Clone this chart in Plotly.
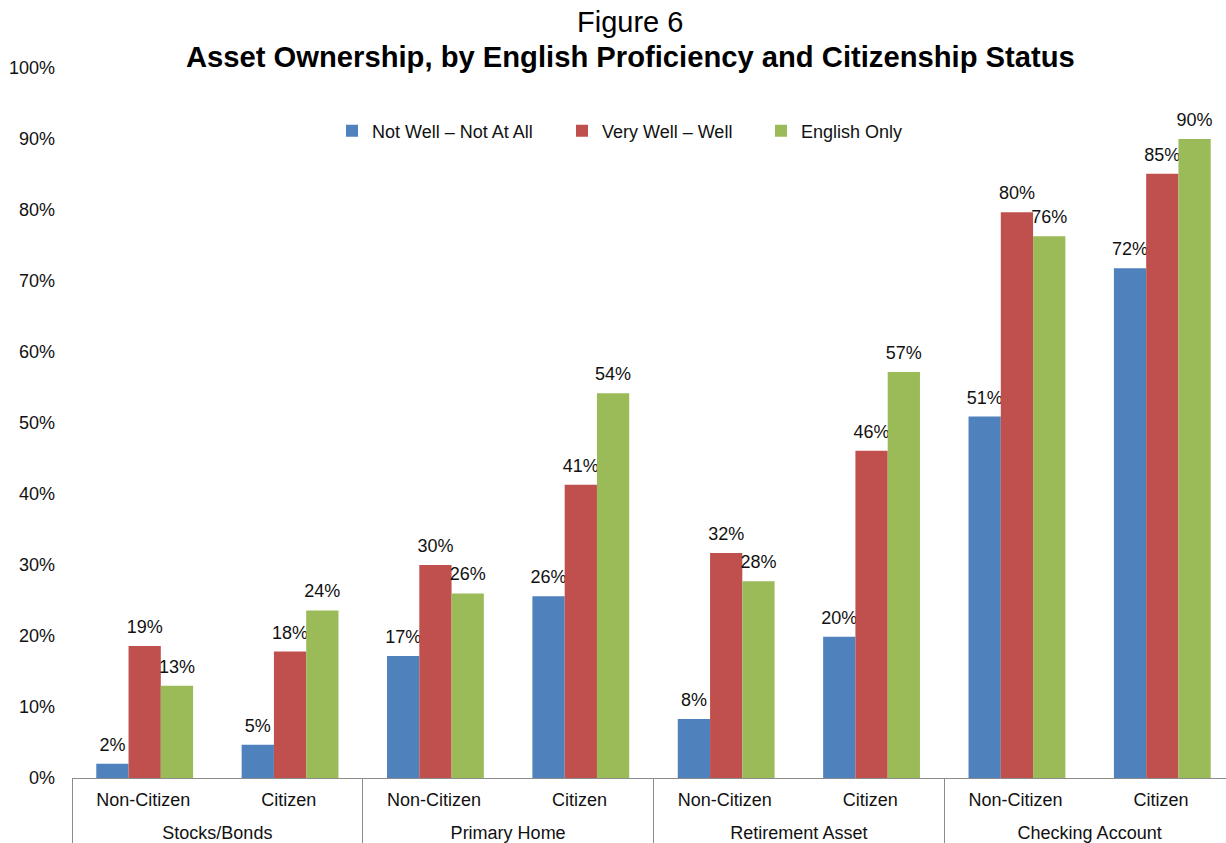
import plotly.graph_objects as go

# Asset groups and citizenship sub-groups (two-level category axis)
assets = ["Stocks/Bonds", "Stocks/Bonds", "Primary Home", "Primary Home",
          "Retirement Asset", "Retirement Asset", "Checking Account", "Checking Account"]
status = ["Non-Citizen", "Citizen"] * 4

# Share owning each asset (%), by English proficiency
not_well = [2.0, 4.7, 17.2, 25.6, 8.3, 19.9, 50.9, 71.8]
very_well = [18.6, 17.8, 30.0, 41.3, 31.7, 46.1, 79.7, 85.1]
english_only = [13.0, 23.6, 26.0, 54.2, 27.7, 57.2, 76.3, 90.0]

series_names = ["Not Well \u2013 Not At All", "Very Well \u2013 Well", "English Only"]
series_values = [not_well, very_well, english_only]
series_colors = ["#4F81BD", "#C0504D", "#9BBB59"]

y_ticks = list(range(0, 101, 10))
y_tick_text = [f"{v}%" for v in y_ticks]

FONT = "Liberation Sans, Arial, sans-serif"
W, H = 1226, 843
L, T, B = 72, 68, 64.5
plot_w = W - L
plot_h = H - T - B
unit_px = 145.4  # width of one category slot


def px_x(px):
    return (px - L) / plot_w


def px_y(px):
    return (H - B - px) / plot_h


# Lower-level labels carry a tall blank so the group names sit further below
spacer = "<span style='font-size:32px'>\u200a</span>"
status_labels = [s + spacer for s in status]

# Tall blanks around the value labels lift them a little off the bar tops
lift = "<span style='font-size:46px'>\u200a</span>"

fig = go.Figure()
legend_ids = ["legend", "legend2", "legend3"]
for name, vals, color, lg in zip(series_names, series_values, series_colors, legend_ids):
    fig.add_trace(go.Bar(
        x=[assets, status_labels], y=vals, name=name,
        marker=dict(color=color, line=dict(width=0)),
        text=[f"{lift}{v:.0f}%{lift}" for v in vals],
        textposition="outside",
        textfont=dict(family=FONT, size=18, color="#111111"),
        constraintext="none",
        cliponaxis=False,
        legend=lg,
        showlegend=True,
    ))

legend_text_x = [374, 604, 803]
legend_common = dict(
    orientation="h", yanchor="middle", xanchor="left",
    font=dict(family=FONT, size=18, color="#111111"),
    bgcolor="rgba(0,0,0,0)", borderwidth=0, itemwidth=30,
    visible=True,
)
for lg, tx in zip(legend_ids, legend_text_x):
    fig.update_layout({lg: dict(x=px_x(tx - 42), y=px_y(131), **legend_common)})

fig.update_layout(
    width=W, height=H,
    showlegend=True,
    margin=dict(l=L, r=0, t=T, b=B, pad=0),
    paper_bgcolor="white", plot_bgcolor="white",
    font=dict(family=FONT, size=18, color="#111111"),
    barmode="group", bargap=0.334, bargroupgap=0,
    xaxis=dict(
        type="multicategory",
        range=[-0.5, 7.5 - 9 / unit_px],
        showline=True, linecolor="#8c8c8c", linewidth=1,
        showdividers=True, dividercolor="#8c8c8c", dividerwidth=1,
        tickfont=dict(family=FONT, size=18, color="#111111"),
        ticklabelstandoff=5,
        showgrid=False, zeroline=False,
    ),
    yaxis=dict(
        range=[0, 100], tickvals=y_ticks, ticktext=y_tick_text,
        showgrid=False, zeroline=False, showline=False,
        ticks="", ticklabelstandoff=16,
        tickfont=dict(family=FONT, size=18, color="#111111"),
    ),
    annotations=[
        dict(text="Figure 6", xref="paper", yref="paper",
             x=px_x(630), y=px_y(22), xanchor="center", yanchor="middle",
             showarrow=False, font=dict(family=FONT, size=29, color="#000000")),
        dict(text="<b>Asset Ownership, by English Proficiency and Citizenship Status</b>",
             xref="paper", yref="paper",
             x=px_x(630), y=px_y(57), xanchor="center", yanchor="middle",
             showarrow=False, font=dict(family=FONT, size=29.2, color="#000000")),
    ],
)

fig.write_html("out.html")
